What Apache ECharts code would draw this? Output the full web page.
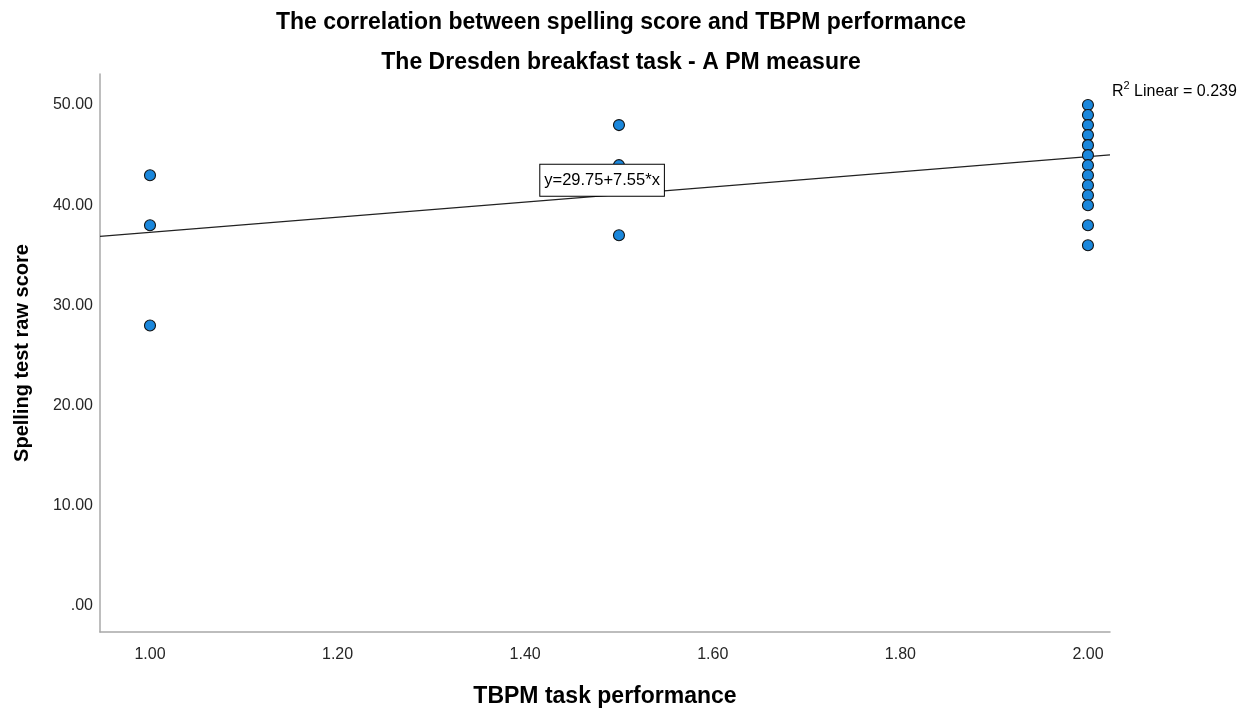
<!DOCTYPE html>
<html>
<head>
<meta charset="utf-8">
<script src="https://cdn.jsdelivr.net/npm/echarts@6/dist/echarts.min.js"></script>
<style>html,body{margin:0;padding:0;background:#fff}#c{width:1242px;height:708px}</style>
</head>
<body>
<div id="c"></div>
<script>
// Data
const tbpm = [1.0, 1.0, 1.0, 1.5, 1.5, 1.5,
  2.0, 2.0, 2.0, 2.0, 2.0, 2.0, 2.0, 2.0, 2.0, 2.0, 2.0, 2.0, 2.0];
const spelling = [43, 38, 28, 48, 44, 37,
  50, 49, 48, 47, 46, 45, 44, 43, 42, 41, 40, 38, 36];
const yTicks = [0, 10, 20, 30, 40, 50];
const xTicks = [1.0, 1.2, 1.4, 1.6, 1.8, 2.0];
const fitIntercept = [29.75];
const fitSlope = [7.55];
const r2Text = ['0.239'];

const xMin = 0.9467, xMax = 2.0235, yMin = -2.6, yMax = 53.1;
const fitAt = x => fitIntercept[0] + fitSlope[0] * x;
const labelX = 1.482;

const points = tbpm.map((x, i) => [x, spelling[i]]);
const fitLine = [[xMin, fitAt(xMin)], [labelX, fitAt(labelX)], [xMax, fitAt(xMax)]];

const chart = echarts.init(document.getElementById('c'));
const fontFam = '"Liberation Sans", Arial, sans-serif';
chart.setOption({
  animation: false,
  backgroundColor: '#fff',
  title: [
    {text: 'The correlation between spelling score and TBPM performance', left: 'center', top: 6,
     textStyle: {fontFamily: fontFam, fontSize: 23, fontWeight: 'bold', color: '#000'}},
    {text: 'The Dresden breakfast task - A PM measure', left: 'center', top: 46,
     textStyle: {fontFamily: fontFam, fontSize: 23, fontWeight: 'bold', color: '#000'}}
  ],
  grid: {left: 100, right: 132, top: 74, bottom: 76, outerBoundsMode: 'none', containLabel: false},
  xAxis: {
    type: 'value', min: xMin, max: xMax,
    name: 'TBPM task performance', nameLocation: 'middle', nameGap: 53,
    nameTextStyle: {fontFamily: fontFam, fontSize: 23, fontWeight: 'bold', color: '#000'},
    axisLine: {show: true, onZero: false, lineStyle: {color: '#a8a8a8', width: 1.5}},
    axisTick: {show: false},
    splitLine: {show: false},
    axisLabel: {customValues: xTicks, formatter: v => v.toFixed(2), margin: 15,
      fontFamily: fontFam, fontSize: 16, color: '#262626'}
  },
  yAxis: {
    type: 'value', min: yMin, max: yMax,
    name: 'Spelling test raw score', nameLocation: 'middle', nameGap: 68,
    nameTextStyle: {fontFamily: fontFam, fontSize: 20, fontWeight: 'bold', color: '#000'},
    axisLine: {show: true, onZero: false, lineStyle: {color: '#a8a8a8', width: 1.5}},
    axisTick: {show: false},
    splitLine: {show: false},
    axisLabel: {customValues: yTicks, formatter: v => v === 0 ? '.00' : v.toFixed(2), margin: 7,
      fontFamily: fontFam, fontSize: 16, color: '#262626', padding: [5, 0, 0, 0]}
  },
  series: [
    {
      type: 'line', data: fitLine, symbol: 'none', z: 1,
      lineStyle: {color: '#222', width: 1.2},
      label: {show: false},
      markPoint: {
        symbol: 'rect', symbolSize: 0,
        data: [{coord: fitLine[1]}],
        label: {show: true, position: 'top', distance: 0,
          formatter: 'y=' + fitIntercept[0].toFixed(2) + '+' + fitSlope[0].toFixed(2) + '*x',
          fontFamily: fontFam, fontSize: 16.5, color: '#000', lineHeight: 18,
          backgroundColor: '#fff', borderColor: '#000', borderWidth: 1,
          padding: [7, 4, 6, 4]}
      }
    },
    {
      type: 'scatter', data: points, symbol: 'circle', symbolSize: 11, z: 3,
      itemStyle: {color: '#1a87dc', borderColor: '#111', borderWidth: 1.1, opacity: 1}
    }
  ],
  graphic: [{
    type: 'text', left: 1112, top: 80,
    style: {
      text: '{r|R}{s|2}{r| Linear = ' + r2Text[0] + '}',
      rich: {
        r: {fontFamily: fontFam, fontSize: 16, fill: '#000', verticalAlign: 'bottom', lineHeight: 20},
        s: {fontFamily: fontFam, fontSize: 11, fill: '#000', verticalAlign: 'top', lineHeight: 20}
      }
    }
  }]
});
</script>
</body>
</html>
